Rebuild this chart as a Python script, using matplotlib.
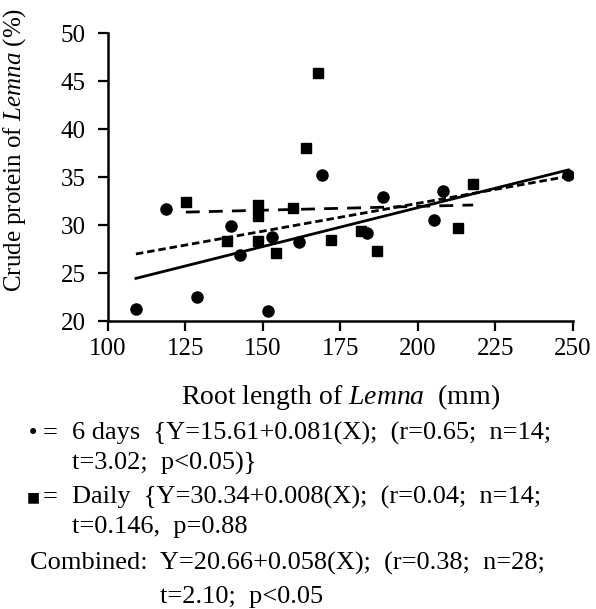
import matplotlib.pyplot as plt
import numpy as np

plt.rcParams['font.family'] = ['Liberation Serif', 'DejaVu Sans']
plt.rcParams['mathtext.fontset'] = 'custom'
plt.rcParams['mathtext.rm'] = 'Liberation Serif'
plt.rcParams['mathtext.it'] = 'Liberation Serif:italic'

# recolte tous les 6 jours (cercles)
x_6jours = [109.0, 118.7, 128.6, 139.8, 142.6, 151.7, 152.8, 161.7, 169.1, 183.5, 188.8, 205.2, 208.2, 248.5]
y_6jours = [21.2, 31.7, 22.5, 29.9, 26.9, 21.0, 28.8, 28.2, 35.2, 29.2, 32.9, 30.5, 33.5, 35.2]

# recolte quotidienne (carres)
x_quotidien = [125.1, 138.5, 148.3, 148.3, 148.3, 154.2, 159.6, 163.9, 167.6, 171.8, 181.5, 186.7, 213.0, 217.8]
y_quotidien = [32.4, 28.3, 32.1, 30.9, 28.3, 27.1, 31.8, 38.0, 45.8, 28.4, 29.4, 27.3, 29.7, 34.3]

# droites de regression (ordonnee, pente)
reg_6jours = (15.61, 0.081)
reg_quotidien = (30.34, 0.008)
reg_combine = (20.66, 0.058)

x_ticks = [100, 125, 150, 175, 200, 225, 250]
y_ticks = [20, 25, 30, 35, 40, 45, 50]

legende = [
    ('\u2022', '6 days  {Y=15.61+0.081(X);  (r=0.65;  n=14;'),
    ('', 't=3.02;  p<0.05)}'),
    ('\u25a0', 'Daily  {Y=30.34+0.008(X);  (r=0.04;  n=14;'),
    ('', 't=0.146,  p=0.88'),
]
combine_lignes = ['Combined:  Y=20.66+0.058(X);  (r=0.38;  n=28;', 't=2.10;  p<0.05']

W, H = 596, 609


def fx(px):
    return px / W


def fy(py):
    return 1 - py / H


fig = plt.figure(figsize=(W / 100, H / 100), dpi=100)
ax = fig.add_axes([fx(108), fy(321), fx(573) - fx(108), fy(33) - fy(321)])

xs = np.array(x_6jours + x_quotidien)
x6 = np.array([min(x_6jours), max(x_6jours)])
xq = np.array([min(x_quotidien), max(x_quotidien)])
xc = np.array([xs.min(), xs.max()])

ax.plot(x6, reg_6jours[0] + reg_6jours[1] * x6, color='black', lw=2.0)
ax.plot(xc, reg_combine[0] + reg_combine[1] * xc, color='black', lw=2.0, ls=(0, (2.7, 1.4)))
ax.plot(xq, reg_quotidien[0] + reg_quotidien[1] * xq, color='black', lw=2.0, ls=(0, (5, 3.3)))

ax.plot(x_6jours, y_6jours, 'o', color='black', ms=8, zorder=3)
ax.plot(x_quotidien, y_quotidien, 's', color='black', ms=7, zorder=3)

ax.set_xlim(100, 250)
ax.set_ylim(20, 50)
ax.set_xticks(x_ticks)
ax.set_yticks(y_ticks)
ax.spines['top'].set_visible(False)
ax.spines['right'].set_visible(False)
ax.spines['left'].set_linewidth(1.8)
ax.spines['bottom'].set_linewidth(1.8)
ax.tick_params(direction='out', length=7, width=1.6, labelsize=18, pad=5)
ax.tick_params(axis='y', pad=9)

ax.set_xlabel('Root length of $\\mathit{Lemna}$  (mm)', fontsize=20, labelpad=16)
fig.text(fx(15), fy(150), 'Crude protein of $\\mathit{Lemna}$ (%)', rotation=90,
         ha='center', va='center', fontsize=18)

ys = [433, 463, 497, 527]
for (sym, txt), y in zip(legende, ys):
    if sym:
        fig.text(fx(27), fy(y), sym, ha='left', va='center', fontsize=15 if sym == '\u2022' else 10,
                 family=['DejaVu Sans'])
        fig.text(fx(43), fy(y), '=', ha='left', va='center', fontsize=19)
    fig.text(fx(72), fy(y), txt, ha='left', va='center', fontsize=19)

fig.text(fx(30), fy(563), combine_lignes[0], ha='left', va='center', fontsize=19)
fig.text(fx(160), fy(597), combine_lignes[1], ha='left', va='center', fontsize=19)

fig.savefig('out.png', dpi=100)
